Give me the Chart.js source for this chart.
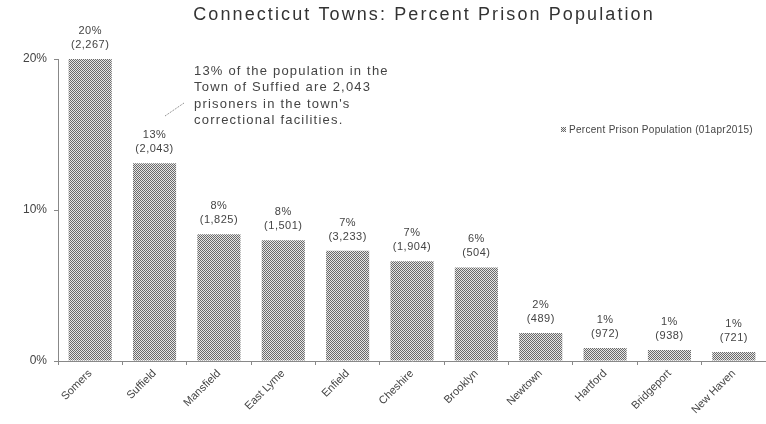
<!DOCTYPE html>
<html>
<head>
<meta charset="utf-8">
<script src="https://cdn.jsdelivr.net/npm/chart.js@4.4.1/dist/chart.umd.min.js"></script>
<style>
  html, body { margin: 0; padding: 0; background: #fff; }
  #wrap { width: 766px; height: 424px; }
</style>
</head>
<body>
<div id="wrap"><canvas id="graph1" width="766" height="424"></canvas></div>
<script>
// data
const towns   = ["Somers", "Suffield", "Mansfield", "East Lyme", "Enfield", "Cheshire",
                 "Brooklyn", "Newtown", "Hartford", "Bridgeport", "New Haven"];
const percent = [20.0, 13.1, 8.4, 8.0, 7.3, 6.6, 6.2, 1.85, 0.86, 0.73, 0.6];
const inmates = [2267, 2043, 1825, 1501, 3233, 1904, 504, 489, 972, 938, 721];
const yTicks  = [0, 10, 20];

const seriesName = "Percent Prison Population (01apr2015)";
const titleText  = "Connecticut Towns: Percent Prison Population";
const noteLines  = ["13% of the population in the",
                    "Town of Suffied are 2,043",
                    "prisoners in the town's",
                    "correctional facilities."];

const FONT = "'Liberation Sans', Arial, sans-serif";

// checker pattern for the bars (the reference is dithered gray)
function makePattern(){
    const c = document.createElement("canvas");
    c.width = 2; c.height = 2;
    const g = c.getContext("2d");
    g.fillStyle = "#e6e6e6"; g.fillRect(0, 0, 2, 2);
    g.fillStyle = "#6a6a6a"; g.fillRect(0, 0, 1, 1); g.fillRect(1, 1, 1, 1);
    return g.createPattern(c, "repeat");
}

// title, legend, note and the value labels above the bars
const extras = {
    id: "extras",
    afterDatasetsDraw(chart){
        const ctx = chart.ctx;
        ctx.save();

        // title
        ctx.fillStyle = "#333";
        ctx.font = "18px " + FONT;
        ctx.textAlign = "center";
        ctx.textBaseline = "middle";
        ctx.letterSpacing = "2.1px";
        ctx.fillText(titleText, 424, 15);

        // labels above bars
        ctx.font = "11px " + FONT;
        ctx.letterSpacing = "0.5px";
        ctx.fillStyle = "#444";
        const meta = chart.getDatasetMeta(0);
        meta.data.forEach((bar, i) => {
            const x = bar.x;
            ctx.fillText(Math.round(percent[i]) + "%", x, bar.y - 28);
            ctx.fillText("(" + inmates[i].toLocaleString("en-US") + ")", x, bar.y - 14);
        });

        // legend
        ctx.fillStyle = chart.data.datasets[0].backgroundColor;
        ctx.fillRect(561, 127, 5, 5);
        ctx.fillStyle = "#444";
        ctx.textAlign = "left";
        ctx.font = "10px " + FONT;
        ctx.letterSpacing = "0.3px";
        ctx.fillText(seriesName, 569, 130);

        // note about Suffield
        ctx.font = "13px " + FONT;
        ctx.letterSpacing = "1.2px";
        ctx.fillStyle = "#444";
        noteLines.forEach((t, i) => ctx.fillText(t, 194, 71 + i * 16.5));
        ctx.letterSpacing = "0px";
        ctx.strokeStyle = "#777";
        ctx.lineWidth = 1;
        ctx.setLineDash([1, 1]);
        ctx.beginPath();
        ctx.moveTo(165, 116);
        ctx.lineTo(184, 103);
        ctx.stroke();

        ctx.restore();
    }
};

window.addEventListener("load", function(){
    const ctx = document.getElementById("graph1").getContext("2d");
    const myChart = new Chart(ctx, {
        type: "bar",
        data: {
            labels: towns,
            datasets: [{
                label: seriesName,
                data: percent,
                backgroundColor: makePattern(),
                borderWidth: 0,
                barPercentage: 0.67,
                categoryPercentage: 1.0
            }]
        },
        options: {
            responsive: false,
            animation: false,
            layout: { padding: { top: 59, right: 0, left: 0, bottom: 0 } },
            plugins: {
                legend: { display: false },
                title: { display: false },
                tooltip: { enabled: false }
            },
            scales: {
                x: {
                    grid: { display: true, drawOnChartArea: false, offset: true,
                            tickLength: 4, color: "#888" },
                    border: { display: true, color: "#888", dash: [1, 1] },
                    ticks: {
                        color: "#444",
                        font: { family: FONT, size: 11 },
                        maxRotation: 45, minRotation: 45,
                        autoSkip: false, padding: 2
                    },
                    afterFit(scale){ scale.height = 63; }
                },
                y: {
                    min: 0, max: 20,
                    afterBuildTicks(scale){ scale.ticks = yTicks.map(v => ({ value: v })); },
                    grid: { display: true, drawOnChartArea: false, tickLength: 4, color: "#888" },
                    border: { display: true, color: "#888", dash: [1, 1] },
                    ticks: {
                        color: "#444",
                        font: { family: FONT, size: 12 },
                        padding: 7,
                        callback: v => v + "%"
                    },
                    afterFit(scale){ scale.width = 58; }
                }
            }
        },
        plugins: [extras]
    });
});
</script>
</body>
</html>
